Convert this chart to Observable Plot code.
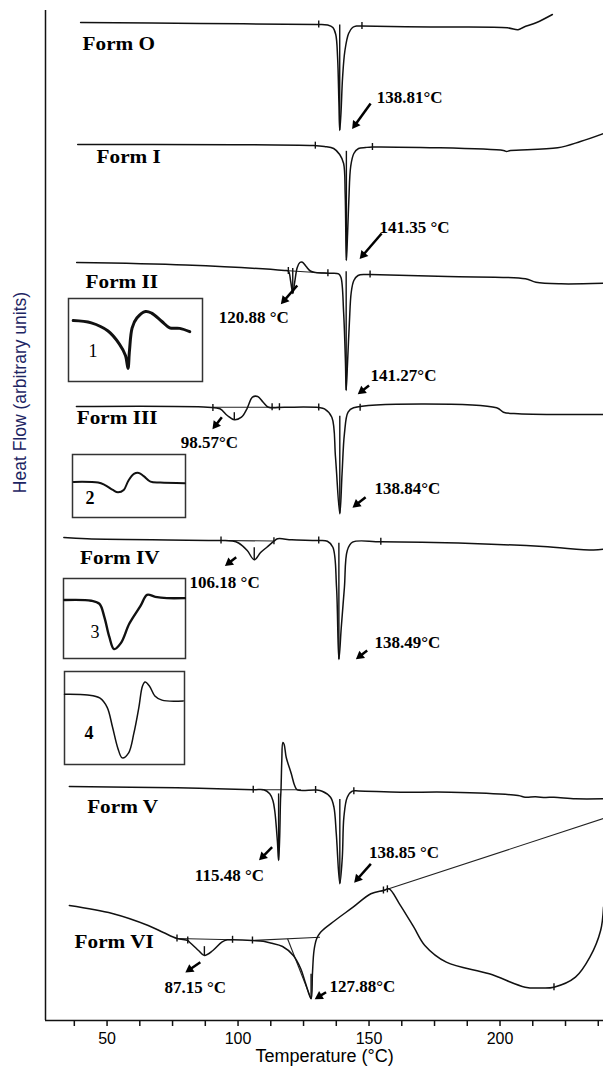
<!DOCTYPE html>
<html>
<head>
<meta charset="utf-8">
<script src="https://cdn.jsdelivr.net/npm/d3@7"></script>
<script src="https://cdn.jsdelivr.net/npm/@observablehq/plot@0.6"></script>
<style>
  body { margin: 0; background: #fff; }
  #chart { position: relative; width: 603px; height: 1068px; }
  #chart svg { display: block; }
  .inset { position: absolute; }
</style>
</head>
<body>
<div id="chart"></div>
<script>
// DSC thermograms of the seven forms: temperature (°C) vs heat flow (arbitrary units).
// Each trace is stored relative to its own baseline; offsets stack the traces vertically.
const forms = ["Form O", "Form I", "Form II", "Form III", "Form IV", "Form V", "Form VI"];
const offsets = [998, 876, 758, 614, 483, 234, 115];

const formO = [[39.9,0],[85.7,-1],[130,-2],[134.2,-2.5],[136.2,-5],[137.3,-12],[138.0,-35],[138.5,-80],[138.81,-108],[139.3,-90],[139.9,-55],[140.8,-28],[142.2,-11],[143.7,-5],[145.2,-3.5],[147,-3.5],[173.5,-4.5],[202.8,-5.3],[206.9,-7.3],[209,-4.7],[214,0],[220,8]];
const formI = [[38.8,0],[128.8,-1],[133.0,-2],[136.5,-4],[138.8,-10],[140.3,-19],[140.9,-50],[141.35,-116],[141.8,-90],[142.3,-55],[143.0,-22],[144.2,-9],[146,-4],[148.7,-3],[151.3,-2.5],[201.3,-6],[202.5,-7],[204,-6],[222,-3.3],[230.7,3],[239.5,11]];
const formII = [[38.4,0],[80,-2.5],[117.7,-8],[119.2,-8.5],[120.1,-19],[120.88,-31],[121.6,-20],[122.6,-5],[123.6,0],[124.6,0.3],[126,-4],[127.6,-8.5],[129.6,-10],[134.5,-10.7],[138.4,-11.3],[139.3,-15],[140.3,-50],[141.0,-100],[141.27,-128],[141.8,-100],[142.5,-60],[143.2,-30],[144.2,-18],[145.8,-13],[148.5,-12],[150.4,-12],[180,-14],[209.7,-16.3],[213.7,-19.7],[223.3,-21.3],[239.5,-20.7]];
const formIII = [[38.3,0],[88.4,-0.7],[93.1,-2.3],[95.9,-9],[98.57,-13.3],[101.3,-10.7],[103.4,-2.3],[105.5,9.3],[107.5,10],[109.6,4.3],[111.6,-0.7],[117.7,-0.7],[130.8,-1],[133.0,-2.3],[135.8,-10.7],[137.2,-50.7],[138.84,-107.3],[139.7,-67.3],[140.6,-27.3],[142,-5.7],[144.1,-1.3],[198.7,-1.3],[201.3,-5.7],[206.9,-7.3],[239.5,-8]];
const formIV = [[33.5,0],[42.4,-1.3],[93.1,-3],[97.9,-3.5],[100.2,-5.5],[103.5,-13],[106.18,-22.3],[108.6,-15],[111.0,-9.7],[113.7,-3.7],[115.1,-1.3],[120.5,-2.3],[130.2,-3],[134.1,-3.7],[136.2,-9.7],[137.6,-50],[138.49,-122],[139.4,-90],[140.6,-50],[141.7,-13],[143.7,-4.7],[154.5,-4.3],[189.1,-6],[216.5,-9],[235.7,-12.6],[239.5,-11.7]];
const formV = [[35.6,0],[76.7,-1.3],[105.8,-3.3],[109.8,-3.3],[112.1,-7.3],[113.3,-14],[114.0,-24],[115.0,-54],[115.48,-74],[115.9,-50],[116.2,-14],[116.4,-3],[116.7,26],[117.1,44],[117.6,42],[118.4,29],[120.3,13],[121.6,1],[122.6,-3.3],[129.6,-3.5],[132.1,-4.7],[135.3,-10.7],[136.6,-20.7],[137.5,-47.3],[138.85,-97.3],[139.8,-70.7],[140.4,-30.7],[141.7,-10.7],[143.6,-4.7],[146,-4.5],[162,-5.7],[181.1,-5.7],[206.9,-9],[209.6,-10.7],[213.5,-10.3],[217.4,-11],[220.6,-10.7],[228.8,-12.3],[239.5,-12.3]];
const formVI = [[35.6,0],[52.0,-8],[65.7,-20],[71.5,-27],[76.7,-33],[80.8,-35],[81.5,-36.7],[84.9,-45],[87.15,-50],[90.4,-45],[93.8,-36.7],[95.9,-34.3],[97.9,-34.3],[105.5,-35],[109.6,-35.7],[112.4,-37.5],[117.0,-41],[121.1,-50],[123.9,-63],[125.8,-78],[127.88,-93.3],[128.4,-68],[129.0,-45],[130.0,-33.3],[131.5,-26.7],[137,-15],[143.9,-1.7],[150.7,11.7],[155.5,15],[157.6,16.7],[161.6,1.7],[167.1,-21.7],[171.3,-40],[179.5,-56.7],[195.9,-68.3],[209.6,-81.7],[215.5,-82.5],[220.6,-81.7],[228.8,-71.7],[234.3,-51.7],[238.4,-25],[239.5,-1.7]];
const traces = [formO, formI, formII, formIII, formIV, formV, formVI];

// Integration limits marked on each trace (°C)
const limits = [[130.8,147.3],[129.5,151.3],[119.2,134.3,150.4],[90.4,113.0,115.8,130.8,146.6],[93.5,113.7,130.8,154.5],[105.8,129.6,144.2],[76.7,80.8,97.9,105.5,155.5,157.0,220.6]];

// Straight integration baselines / tangents: [form, t1, h1, t2, h2]
const baselines = [[2,117.7,-8,134.2,-10.7],[3,90.4,-0.7,115.8,-0.7],[4,93.5,-3,113.7,-3.5],[5,109,-3.3,124,-3.3],
  [6,76.7,-33,97.9,-34.3],[6,105.5,-35,131.3,-31.7],[6,118.9,-33.3,127.88,-93.3],[6,155.5,15,239.5,87]];

// Labelled peak temperatures (°C) and the trace they belong to
const peakTemps = [138.81, 141.35, 120.88, 141.27, 98.57, 138.84, 106.18, 138.49, 115.48, 138.85, 87.15, 127.88];
const peakForm  = [0, 1, 2, 2, 3, 3, 4, 4, 5, 5, 6, 6];
const peakUnit  = ["°C", " °C", " °C", "°C", "°C", "°C", " °C", "°C", " °C", " °C", " °C", "°C"];
// label anchor (°C, heat flow) and arrow tail -> head (°C, heat flow)
const peakLabelAt = [[152.9,923.3],[154.0,793.3],[92.6,703.3],[150.6,645],[78.1,578.3],[152.1,531.7],[81.5,438.3],[152.1,378.3],[83.5,145],[150.0,168.3],[71.9,33.3],[134.9,34.3]];
const peakArrow = [[150.6,917,143.7,892],[154.8,787,146.6,762],[122.6,735,116.5,716.7],[150.0,635,145.9,626.7],
  [93.8,603.3,90.4,591.7],[148.7,523.3,143.9,513.3],[99.3,463.3,95.2,455],[149.3,370,145.2,361.7],
  [113.0,173.3,108.2,160.7],[150.7,156.7,144.5,138.3],[85.6,58.3,80.1,48.3],[133.6,28.3,129.5,21.7]];
// Form name anchors (°C, heat flow)
const formLabelAt = [[40.65,976.7],[46.0,863.3],[41.8,738.3],[38.4,602.7],[39.7,462.7],[42.4,213.3],[37.6,78.3]];

// Temperature axis
const xDomain = [26.5, 239.5];
const xTicks = d3.range(37.5, 238, 12.5);

// Enlarged views of the small transitions
const inset1 = [[112.7,73.4],[115.4,70.6],[117.9,60.8],[119.6,45.1],[120.5,31.4],[120.88,15.8],[121.1,37.3],[121.5,64.7],[122.2,76.5],[123.5,84.4],[124.4,82.4],[125.9,72.6],[127.1,64.7],[128.6,64],[130.1,60]];
const inset2 = [[86.8,56.5],[93.3,55.4],[95.0,51.8],[97.2,43.7],[98.57,40],[100.1,43.7],[101.3,58],[102.8,69.2],[104.1,70.8],[105.4,65.7],[107.2,56.9],[109.8,55.4],[116.3,54.5]];
const inset3 = [[89.9,73.1],[98.7,72.2],[101.4,68.2],[103.0,51.8],[104.6,27.3],[106.18,11.8],[108.4,19.2],[111.2,43.7],[114.9,66.1],[117,79.6],[119.7,77.1],[123.5,75.5],[129.4,75.5]];
const inset4 = [[96,75.5],[103.8,74.7],[108,71.3],[110.4,61.4],[112.2,40.3],[114,17.6],[115.48,7.1],[117.6,12.3],[119.4,33.4],[121.1,61.4],[122.3,84.2],[123.2,88.7],[124.7,84.2],[126.5,73.7],[128.9,69.2],[136.1,68.4]];
const insetNames = ["1", "2", "3", "4"];
const insetDomains = [[112, 132], [86.5, 116.5], [89.6, 129.6], [96, 136.5]];

// ---- layout ----
const W = 603, H = 1068, ML = 45, MB = 48;
const kx = (W - ML) / (xDomain[1] - xDomain[0]); // px per °C

function at(trace, t) {
  for (let i = 1; i < trace.length; i++) {
    const [t0, h0] = trace[i - 1], [t1, h1] = trace[i];
    if (t >= t0 && t <= t1) return h0 + (h1 - h0) * (t - t0) / ((t1 - t0) || 1);
  }
  return trace[trace.length - 1][1];
}

const rows = traces.flatMap((tr, i) => tr.map(([t, h]) => ({form: forms[i], t, hf: offsets[i] + h})));
const limitRows = limits.flatMap((ts, i) => ts.map(t => ({t, hf: offsets[i] + at(traces[i], t)})));
const baseRows = baselines.map(([f, t1, h1, t2, h2]) => ({t1, y1: offsets[f] + h1, t2, y2: offsets[f] + h2}));
const peakLines = peakTemps.map((t, i) => {
  const tr = traces[peakForm[i]], o = offsets[peakForm[i]];
  return {t, y1: o + at(tr, t - 3) + 2, y2: o + at(tr, t)};
});
const peakLabels = peakTemps.map((t, i) => ({text: t.toFixed(2) + peakUnit[i], t: peakLabelAt[i][0], hf: peakLabelAt[i][1]}));
const formLabels = forms.map((f, i) => ({text: f, t: formLabelAt[i][0], hf: formLabelAt[i][1]}));
const arrowRows = peakArrow.map(([t1, y1, t2, y2]) => {
  const dxp = (t2 - t1) * kx, dyp = -(y2 - y1);
  const len = Math.hypot(dxp, dyp), ux = dxp / len, uy = dyp / len;
  const back = 4.6;
  return {t1, y1, tc: t2 - ux * back / kx, yc: y2 + uy * back, angle: Math.atan2(ux, -uy) * 180 / Math.PI};
});

const main = Plot.plot({
  width: W, height: H,
  marginLeft: ML, marginRight: 0, marginTop: 0, marginBottom: MB,
  style: {background: "#fff", fontFamily: "Liberation Sans, Arial, sans-serif", overflow: "visible"},
  x: {domain: xDomain, axis: null},
  y: {domain: [0, 1020], axis: null},
  marks: [
    Plot.ruleX([xDomain[0]], {y1: 0, y2: 1010, stroke: "#111", strokeWidth: 1.5}),
    Plot.ruleY([0], {stroke: "#111", strokeWidth: 1.6}),
    Plot.axisX({ticks: xTicks, tickFormat: d => d % 50 === 0 ? String(d) : "", tickSize: 6, tickPadding: 6,
      fontSize: 16, label: null, stroke: "#111", strokeWidth: 1.5, color: "#000"}),
    Plot.text(["Temperature (°C)"], {frameAnchor: "bottom", dy: 41, fontSize: 18, fill: "#000"}),
    Plot.text(["Heat Flow (arbitrary units)"], {x: xDomain[0], y: 628, dx: -25, rotate: -90, fontSize: 17.5, fill: "#1d2563"}),
    // baselines and tangents
    Plot.link(baseRows, {x1: "t1", y1: "y1", x2: "t2", y2: "y2", stroke: "#222", strokeWidth: 1.1}),
    // inner peak outlines
    Plot.ruleX(peakLines, {x: "t", y1: "y1", y2: "y2", stroke: "#111", strokeWidth: 1.4}),
    // thermograms
    Plot.line(rows, {x: "t", y: "hf", z: "form", curve: "catmull-rom", stroke: "#111", strokeWidth: 1.5}),
    // integration limits
    Plot.ruleX(limitRows, {x: "t", y1: d => d.hf - 3.5, y2: d => d.hf + 3.5, stroke: "#111", strokeWidth: 1.4}),
    // arrows
    Plot.link(arrowRows, {x1: "t1", y1: "y1", x2: "tc", y2: "yc", stroke: "#000", strokeWidth: 2.5}),
    Plot.dot(arrowRows, {x: "tc", y: "yc", symbol: "triangle2", r: 4.4, rotate: "angle", fill: "#000", stroke: "none"}),
    // labels
    Plot.text(peakLabels, {x: "t", y: "hf", text: "text", textAnchor: "start", fontSize: 17, fontWeight: "bold",
      fontFamily: "Liberation Serif, Times New Roman, serif", fill: "#000"}),
    Plot.text(formLabels, {x: "t", y: "hf", text: "text", textAnchor: "start", fontSize: 18, fontWeight: "bold",
      fontFamily: "Liberation Serif, Times New Roman, serif", fill: "#000", className: "form-label"})
  ]
});

// widen the form names slightly, as set in the figure
d3.select(main).selectAll("g.form-label text").attr("transform", function () {
  return (this.getAttribute("transform") || "") + " scale(1.18,1)";
});

const chart = document.getElementById("chart");
chart.appendChild(main);

// insets
const insetData = [inset1, inset2, inset3, inset4];
const insetBox = [[67, 297, 136, 85], [71, 453, 115, 65], [62, 577, 124, 82], [63, 670, 122, 95]];
const insetStroke = [3, 2, 2.4, 1.5];
const insetLabelPos = [[20, -25], [13, -14], [27, -21], [20, -26]];
const insetBold = ["normal", "bold", "normal", "bold"];
insetData.forEach((data, i) => {
  const [left, top, w, h] = insetBox[i];
  const p = Plot.plot({
    width: w, height: h, margin: 1,
    style: {background: "#fff", overflow: "visible"},
    x: {domain: insetDomains[i], axis: null},
    y: {domain: [0, 100], axis: null},
    marks: [
      Plot.frame({stroke: "#333", strokeWidth: 1.5}),
      Plot.line(data, {x: d => d[0], y: d => d[1], curve: "catmull-rom", stroke: "#111", strokeWidth: insetStroke[i]}),
      Plot.text([insetNames[i]], {frameAnchor: "bottom-left", dx: insetLabelPos[i][0], dy: insetLabelPos[i][1],
        fontSize: 18, fontWeight: insetBold[i], fontFamily: "Liberation Serif, Times New Roman, serif", fill: "#000"})
    ]
  });
  p.classList.add("inset");
  p.style.left = left + "px";
  p.style.top = top + "px";
  chart.appendChild(p);
});
</script>
</body>
</html>
